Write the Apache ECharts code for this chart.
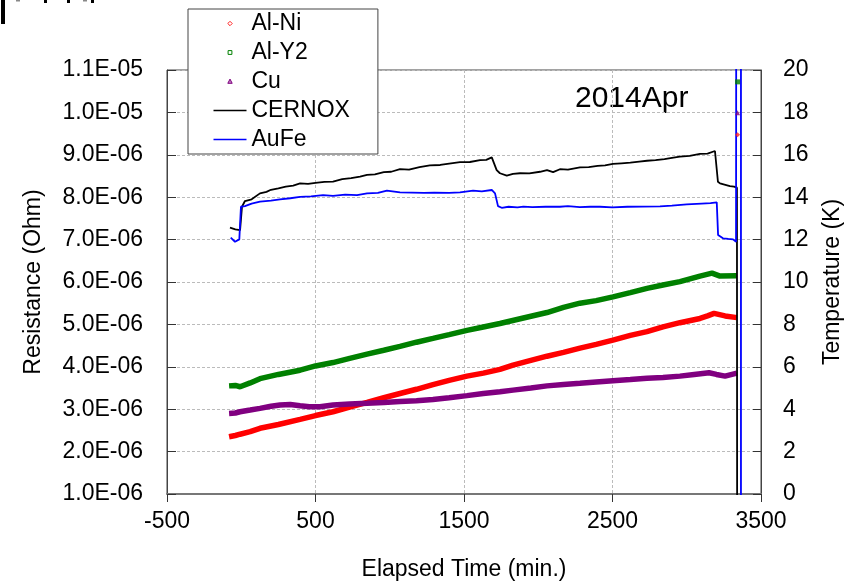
<!DOCTYPE html>
<html>
<head>
<meta charset="utf-8">
<script src="https://cdn.jsdelivr.net/npm/echarts@6/dist/echarts.min.js"></script>
<style>
html,body{margin:0;padding:0;background:#fff;}
#chart{width:846px;height:581px;}
</style>
</head>
<body>
<div id="chart"></div>
<script>
// ---------- DATA ----------
// Elapsed time (min.) and resistance (in units of 1E-06 Ohm)
const alNiTime = [-82, -40, -8, 60, 126, 250, 396, 500, 618, 730, 847, 960, 1069, 1180, 1291, 1400, 1520, 1630, 1742, 1830, 1950, 2059, 2170, 2281, 2390, 2503, 2620, 2732, 2840, 2954, 3089, 3140, 3184, 3258, 3338];
const alNiRes  = [2.35, 2.38, 2.41, 2.47, 2.55, 2.64, 2.76, 2.85, 2.94, 3.05, 3.16, 3.27, 3.37, 3.47, 3.58, 3.68, 3.78, 3.85, 3.94, 4.04, 4.15, 4.25, 4.34, 4.44, 4.53, 4.63, 4.74, 4.83, 4.94, 5.04, 5.14, 5.20, 5.26, 5.20, 5.16];

const alY2Time = [-82, -40, -8, 60, 126, 250, 396, 500, 618, 730, 847, 960, 1069, 1180, 1291, 1400, 1520, 1630, 1742, 1900, 2059, 2170, 2281, 2390, 2503, 2620, 2732, 2840, 2954, 3089, 3170, 3224, 3338];
const alY2Res  = [3.55, 3.56, 3.53, 3.62, 3.72, 3.82, 3.92, 4.02, 4.10, 4.20, 4.30, 4.39, 4.48, 4.58, 4.67, 4.76, 4.86, 4.94, 5.02, 5.15, 5.28, 5.40, 5.50, 5.56, 5.65, 5.75, 5.85, 5.93, 6.01, 6.14, 6.21, 6.14, 6.15];

const cuTime = [-82, -40, -8, 60, 126, 200, 261, 330, 396, 460, 530, 618, 730, 847, 960, 1069, 1180, 1291, 1400, 1520, 1630, 1742, 1830, 1950, 2059, 2170, 2281, 2390, 2503, 2620, 2732, 2840, 2954, 3050, 3150, 3200, 3258, 3338];
const cuRes  = [2.90, 2.91, 2.94, 2.98, 3.02, 3.07, 3.10, 3.11, 3.08, 3.06, 3.06, 3.10, 3.12, 3.14, 3.16, 3.18, 3.20, 3.23, 3.27, 3.32, 3.37, 3.41, 3.45, 3.50, 3.55, 3.58, 3.61, 3.64, 3.67, 3.70, 3.73, 3.75, 3.78, 3.82, 3.86, 3.82, 3.78, 3.85];

// last isolated readings (1E-06 Ohm)
const outlierTime = 3342;
const alNiOutlier = 9.47;
const alY2Outlier = 10.72;
const cuOutlier   = 9.99;

// Temperature (K)
const cernoxTime = [-76, -40, -8, 5, 25, 70, 126, 170, 200, 250, 300, 350, 396, 450, 500, 560, 618, 680, 740, 800, 847, 900, 960, 1010, 1069, 1130, 1200, 1270, 1340, 1400, 1473, 1540, 1608, 1650, 1687, 1700, 1720, 1742, 1788, 1830, 1877, 1940, 2012, 2059, 2100, 2146, 2200, 2281, 2340, 2400, 2450, 2503, 2560, 2620, 2680, 2732, 2790, 2850, 2900, 2954, 3020, 3089, 3140, 3190, 3210, 3224, 3260, 3291, 3318, 3338, 3340];
const cernoxTemp = [12.56, 12.48, 12.45, 13.55, 13.82, 13.9, 14.18, 14.25, 14.35, 14.42, 14.5, 14.55, 14.65, 14.63, 14.68, 14.72, 14.73, 14.85, 14.9, 14.97, 15.05, 15.08, 15.18, 15.2, 15.32, 15.3, 15.42, 15.5, 15.52, 15.58, 15.65, 15.66, 15.75, 15.76, 15.88, 15.8, 15.28, 15.13, 15.02, 15.1, 15.13, 15.12, 15.2, 15.28, 15.18, 15.32, 15.3, 15.41, 15.42, 15.48, 15.5, 15.57, 15.6, 15.63, 15.68, 15.72, 15.75, 15.8, 15.86, 15.91, 15.95, 16.04, 16.06, 16.18, 14.73, 14.65, 14.58, 14.52, 14.5, 14.45, -10];

const aufeTime = [-71, -42, -13, -2, 25, 70, 126, 200, 261, 330, 396, 470, 551, 564, 618, 700, 780, 847, 920, 981, 1069, 1150, 1230, 1300, 1400, 1473, 1561, 1620, 1687, 1709, 1729, 1754, 1800, 1860, 1900, 1960, 2050, 2146, 2200, 2280, 2350, 2416, 2500, 2600, 2700, 2820, 2900, 3000, 3100, 3160, 3202, 3211, 3244, 3280, 3312, 3332, 3335, 3365, 3365];
const aufeTemp = [12.09, 11.9, 12.01, 13.55, 13.58, 13.7, 13.79, 13.84, 13.9, 13.95, 14.02, 14.04, 14.1, 14.18, 14.06, 14.12, 14.1, 14.18, 14.2, 14.31, 14.23, 14.22, 14.2, 14.22, 14.2, 14.23, 14.31, 14.27, 14.34, 14.18, 13.58, 13.5, 13.55, 13.52, 13.56, 13.53, 13.55, 13.55, 13.58, 13.53, 13.55, 13.55, 13.52, 13.55, 13.56, 13.57, 13.6, 13.66, 13.7, 13.72, 13.76, 12.22, 12.06, 12.03, 12.01, 11.9, 40, 40, -10];

const seriesNames = ['Al-Ni', 'Al-Y2', 'Cu', 'CERNOX', 'AuFe'];
const xTicks = {min: -500, max: 3500, step: 1000};
const leftTicks = {min: 1, max: 11, step: 1};    // x 1E-06 Ohm
const rightTicks = {min: 0, max: 20, step: 2};   // K
// ---------- END DATA ----------

const zip = (a, b) => a.map((v, i) => [v, b[i]]);
const FONT = 'Liberation Sans, Arial, sans-serif';

function sciLabel(v) {
  const s = (v * 1e-6).toExponential(1).toUpperCase();
  return s.replace(/E([+-])(\d)$/, function (m, sg, d) { return 'E' + sg + '0' + d; });
}

const chart = echarts.init(document.getElementById('chart'));

const lineIcon = 'path://M0,0M33,14M0,6.2L33,6.2L33,7.8L0,7.8Z';
const gridLine = {show: true, lineStyle: {color: '#bbb', type: [3, 2], width: 1}};

chart.setOption({
  animation: false,
  backgroundColor: '#fff',
  grid: {left: 167, right: 85, top: 70, bottom: 87, containLabel: false, outerBoundsMode: 'none',
    show: true, borderColor: '#444', borderWidth: 1, backgroundColor: 'transparent'},
  legend: {
    orient: 'vertical', left: 188, top: 9,
    padding: [3, 28, 3, 25], itemGap: 6, itemWidth: 33, itemHeight: 14,
    backgroundColor: '#fff', borderColor: '#444', borderWidth: 1,
    selectedMode: false,
    textStyle: {fontFamily: FONT, fontSize: 23, color: '#000'},
    data: [
      {name: 'Al-Ni', icon: 'path://M0,0M33,14M16.5,4.8L18.7,7L16.5,9.2L14.3,7Z', itemStyle: {color: '#fff', borderColor: '#ff2020', borderWidth: 1}},
      {name: 'Al-Y2', icon: 'path://M0,0M33,14M14.6,5.1L18.4,5.1L18.4,8.9L14.6,8.9Z', itemStyle: {color: '#fff', borderColor: '#008000', borderWidth: 1}},
      {name: 'Cu', icon: 'path://M0,0M33,14M16.5,4.6L18.7,8.8L14.3,8.8Z', itemStyle: {color: '#c080c0', borderColor: '#800080', borderWidth: 1}},
      {name: 'CERNOX', icon: lineIcon, itemStyle: {color: '#000', borderWidth: 0}},
      {name: 'AuFe', icon: lineIcon, itemStyle: {color: '#0000ff', borderWidth: 0}}
    ]
  },
  graphic: [
    {type: 'text', left: 575, top: 84, style: {text: '2014Apr', font: '30px ' + FONT, fill: '#000'}},
    {type: 'rect', shape: {x: 1, y: 0, width: 4, height: 24}, style: {fill: '#000'}},
    {type: 'rect', shape: {x: 16, y: 0, width: 4, height: 1.5}, style: {fill: '#888'}},
    {type: 'rect', shape: {x: 44, y: 0, width: 3, height: 3}, style: {fill: '#000'}},
    {type: 'rect', shape: {x: 67, y: 0, width: 3, height: 3}, style: {fill: '#000'}},
    {type: 'rect', shape: {x: 83, y: 0, width: 4, height: 1.5}, style: {fill: '#888'}},
    {type: 'rect', shape: {x: 91, y: 0, width: 3, height: 3}, style: {fill: '#000'}}
  ],
  xAxis: {
    type: 'value', min: xTicks.min, max: xTicks.max, interval: xTicks.step,
    name: 'Elapsed Time (min.)', nameLocation: 'middle', nameGap: 64,
    nameTextStyle: {fontFamily: FONT, fontSize: 23, color: '#000'},
    axisLine: {show: true, onZero: false, lineStyle: {color: '#777', width: 2}},
    axisTick: {show: true, inside: false, length: 8, lineStyle: {color: '#333'}},
    axisLabel: {fontFamily: FONT, fontSize: 23, color: '#000', margin: 16, formatter: function (v) { return String(v); }},
    splitLine: gridLine
  },
  yAxis: [
    {
      type: 'value', min: leftTicks.min, max: leftTicks.max, interval: leftTicks.step,
      position: 'left',
      name: 'Resistance (Ohm)', nameLocation: 'middle', nameGap: 122,
      nameTextStyle: {fontFamily: FONT, fontSize: 23, color: '#000'},
      axisLine: {show: true, onZero: false, lineStyle: {color: '#444', width: 1}},
      axisTick: {show: true, inside: true, length: 9, lineStyle: {color: '#333'}},
      axisLabel: {fontFamily: FONT, fontSize: 23, color: '#000', margin: 24, formatter: sciLabel},
      splitLine: gridLine
    },
    {
      type: 'value', min: rightTicks.min, max: rightTicks.max, interval: rightTicks.step,
      position: 'right',
      name: 'Temperature (K)', nameLocation: 'middle', nameGap: 60,
      nameTextStyle: {fontFamily: FONT, fontSize: 23, color: '#000'},
      axisLine: {show: true, onZero: false, lineStyle: {color: '#444', width: 1}},
      axisTick: {show: true, inside: true, length: 8, lineStyle: {color: '#333'}},
      axisLabel: {fontFamily: FONT, fontSize: 23, color: '#000', margin: 22},
      splitLine: {show: false}
    }
  ],
  series: [
    {name: seriesNames[0], type: 'line', yAxisIndex: 0, data: zip(alNiTime, alNiRes), symbol: 'none', clip: true,
      lineStyle: {color: '#ff0000', width: 5.5}, itemStyle: {color: '#ff0000'}, z: 3},
    {name: seriesNames[1], type: 'line', yAxisIndex: 0, data: zip(alY2Time, alY2Res), symbol: 'none', clip: true,
      lineStyle: {color: '#008000', width: 5.5}, itemStyle: {color: '#008000'}, z: 3},
    {name: seriesNames[2], type: 'line', yAxisIndex: 0, data: zip(cuTime, cuRes), symbol: 'none', clip: true,
      lineStyle: {color: '#800080', width: 5.5}, itemStyle: {color: '#800080'}, z: 3},
    {name: seriesNames[0], type: 'scatter', yAxisIndex: 0, data: [[outlierTime, alNiOutlier]], symbol: 'diamond', symbolSize: 5,
      itemStyle: {color: '#ff2020'}, z: 6},
    {name: seriesNames[1], type: 'scatter', yAxisIndex: 0, data: [[outlierTime, alY2Outlier]], symbol: 'rect', symbolSize: 5,
      itemStyle: {color: '#008000'}, z: 6},
    {name: seriesNames[2], type: 'scatter', yAxisIndex: 0, data: [[outlierTime, cuOutlier]], symbol: 'triangle', symbolSize: 5,
      itemStyle: {color: '#800080'}, z: 6},
    {name: seriesNames[3], type: 'line', yAxisIndex: 1, data: zip(cernoxTime, cernoxTemp), symbol: 'none', clip: true,
      lineStyle: {color: '#000000', width: 1.8}, itemStyle: {color: '#000'}, z: 4},
    {name: seriesNames[4], type: 'line', yAxisIndex: 1, data: zip(aufeTime, aufeTemp), symbol: 'none', clip: true,
      lineStyle: {color: '#0000ff', width: 1.8}, itemStyle: {color: '#0000ff'}, z: 5}
  ]
});
</script>
</body>
</html>
